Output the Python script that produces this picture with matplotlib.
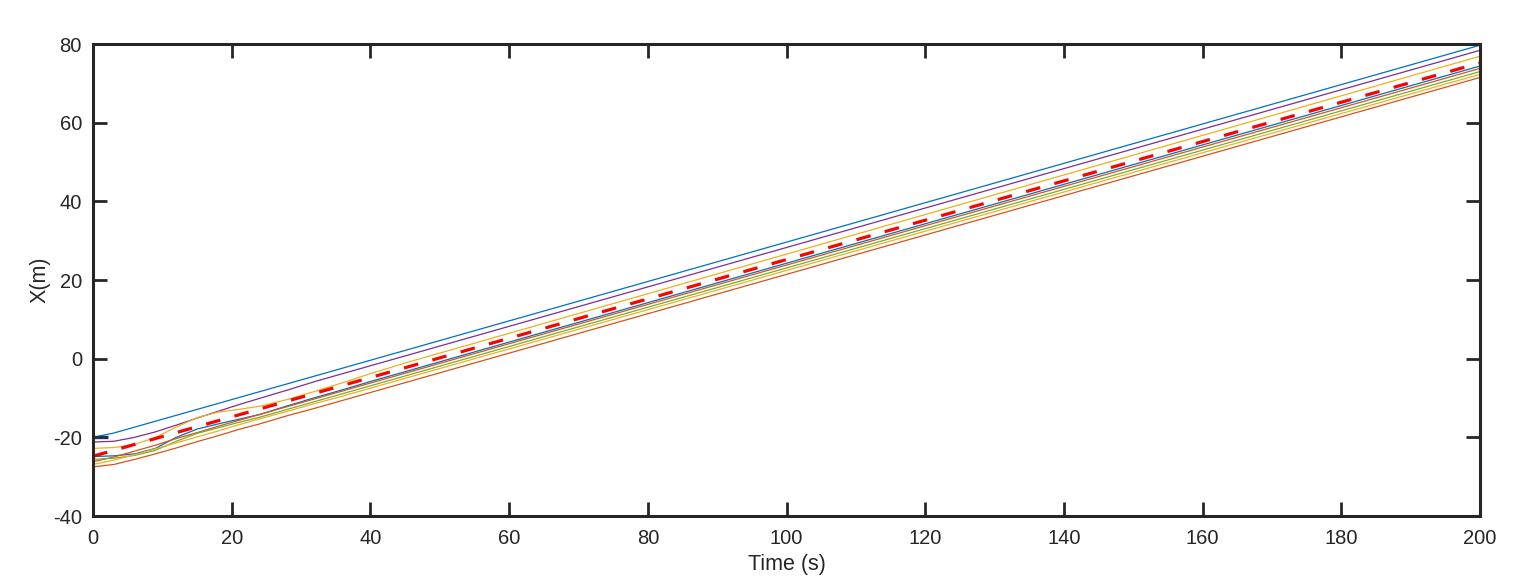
import matplotlib.pyplot as plt

t = [0, 3, 6, 9, 12, 15, 18, 21, 24, 28, 32, 36, 40, 45, 200]

# follower positions X(m) at those knots
blue1 = [-20.0, -18.9, -17.4, -15.9, -14.4, -12.9, -11.4, -9.9, -8.4, -6.4, -4.4, -2.4, -0.4, 2.1, 79.7]
purple = [-21.2, -21.0, -20.0, -18.6, -16.9, -15.1, -13.4, -11.7, -10.1, -8.0, -5.8, -3.8, -1.8, 0.7, 78.4]
yellow1 = [-22.8, -22.6, -21.8, -20.0, -17.4, -15.0, -13.6, -12.9, -12.1, -10.4, -8.3, -6.1, -3.8, -1.1, 76.9]
blue2 = [-24.9, -24.7, -24.2, -22.8, -20.0, -17.9, -16.6, -15.4, -14.2, -12.0, -9.9, -7.9, -5.8, -3.3, 74.4]
orange1 = [-26.2, -25.0, -23.5, -22.0, -20.3, -18.8, -17.2, -15.7, -14.2, -12.2, -10.2, -8.2, -6.2, -3.7, 73.8]
green = [-25.6, -25.3, -24.6, -23.3, -21.0, -19.0, -17.6, -16.2, -14.9, -12.9, -10.9, -8.9, -6.9, -4.4, 73.0]
yellow2 = [-26.9, -25.8, -24.4, -22.9, -21.4, -19.9, -18.4, -16.8, -15.3, -13.4, -11.4, -9.5, -7.5, -5.0, 72.3]
orange2 = [-27.5, -26.9, -25.6, -24.2, -22.7, -21.1, -19.6, -18.0, -16.6, -14.5, -12.6, -10.6, -8.6, -6.1, 71.5]

# reference trajectory (red dashed)
ref_t = [0, 200]
ref_x = [-24.8, 75.2]

# short dark segment at the start
start_t = [0, 2.2]
start_x = [-19.9, -19.9]

followers = [
    (blue1, '#0072BD'),
    (purple, '#7E2F8E'),
    (yellow1, '#EDB120'),
    (blue2, '#0072BD'),
    (orange1, '#D95319'),
    (green, '#77AC30'),
    (yellow2, '#EDB120'),
    (orange2, '#D95319'),
]

plt.rcParams['font.family'] = ['Liberation Sans', 'DejaVu Sans']
plt.rcParams['axes.unicode_minus'] = False

fig = plt.figure(figsize=(15.18, 5.79), dpi=100)
ax = fig.add_axes([0.0613, 0.1088, 0.9137, 0.8152])

for xs, c in followers:
    ax.plot(t, xs, color=c, linewidth=0.9)

ax.plot(start_t, start_x, color='#1c3350', linewidth=2.4, solid_capstyle='butt')
ax.plot(ref_t, ref_x, color='#FF0000', linewidth=2.3, dashes=(4.6, 4.6))

ax.set_xlim(0, 200)
ax.set_ylim(-40, 80)
ax.set_xticks(range(0, 201, 20))
ax.set_yticks(range(-40, 81, 20))
ax.set_xlabel('Time (s)', fontsize=15.5, color='#262626', labelpad=5)
ax.set_ylabel('X(m)', fontsize=15.5, color='#262626', labelpad=2)

for s in ax.spines.values():
    s.set_linewidth(2.2)
    s.set_color('#262626')
ax.tick_params(direction='in', length=10, width=2.0, top=True, right=True,
               labelsize=14.5, colors='#262626')
ax.tick_params(axis='x', pad=9)
ax.tick_params(axis='y', pad=8)

fig.savefig('out.png', dpi=100)
